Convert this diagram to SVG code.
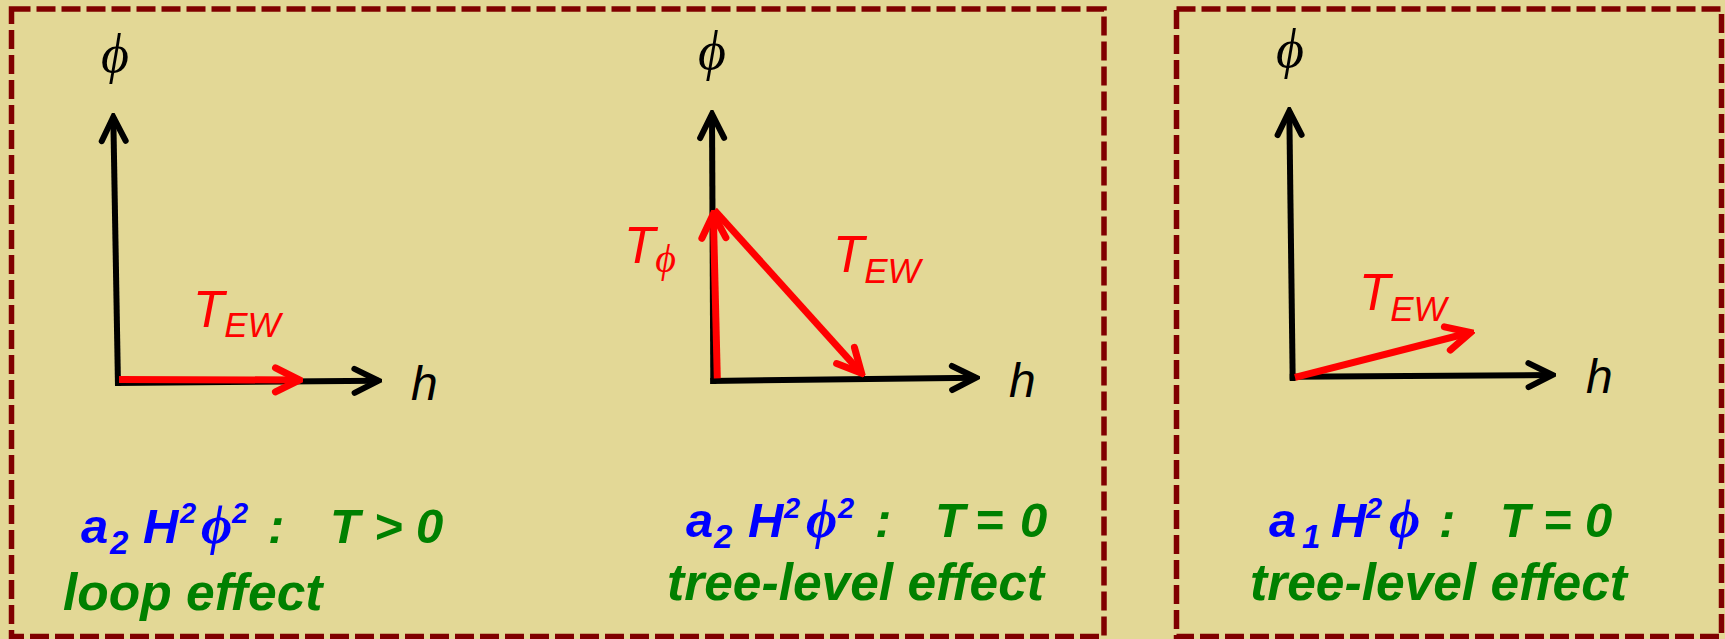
<svg xmlns="http://www.w3.org/2000/svg" width="1725" height="639" viewBox="0 0 1725 639">
  <style>
    .frame { fill: none; stroke: #800000; stroke-width: 5.5; stroke-dasharray: 19 6; }
    .axis { fill: none; stroke: #000; stroke-width: 6; stroke-linecap: butt; }
    .vec { fill: none; stroke: #FF0000; stroke-width: 7; stroke-linecap: butt; }
    .axlbl { font-family: "Liberation Serif", "DejaVu Serif", serif; font-style: italic; font-size: 54px; fill: #000; }
    .hlbl { font-family: "Liberation Sans", Arial, sans-serif; font-style: italic; font-size: 48px; fill: #000; }
    .tlbl { font-family: "Liberation Sans", Arial, sans-serif; font-style: italic; font-size: 51px; fill: #FF0000; }
    .sub { font-size: 35px; }
    .phisub { font-family: "Liberation Serif", "DejaVu Serif", serif; font-style: italic; font-size: 40px; fill: #FF0000; }
    .eq { font-family: "Liberation Sans", Arial, sans-serif; font-style: italic; font-weight: bold; font-size: 49px; }
    .eqphi { font-family: "Liberation Serif", "DejaVu Serif", serif; font-style: italic; font-weight: bold; font-size: 54px; }
    .blue { fill: #0000FF; }
    .green { fill: #008000; }
    .small { font-size: 33px; }
    .sup { font-size: 29px; }
    .desc { font-family: "Liberation Sans", Arial, sans-serif; font-style: italic; font-weight: bold; font-size: 51.5px; fill: #008000; }
  </style>
  <defs>
    <marker id="ahBlack" markerUnits="userSpaceOnUse" viewBox="-30 -16 34 32" refX="0" refY="0" markerWidth="34" markerHeight="32" orient="auto">
      <path d="M-24,-12 L0,0 L-24,12" fill="none" stroke="#000" stroke-width="6" stroke-linecap="round" stroke-linejoin="miter"/>
    </marker>
    <marker id="ahRed" markerUnits="userSpaceOnUse" viewBox="-30 -16 34 32" refX="0" refY="0" markerWidth="34" markerHeight="32" orient="auto">
      <path d="M-24,-12 L0,0 L-24,12" fill="none" stroke="#FF0000" stroke-width="7" stroke-linecap="round" stroke-linejoin="miter"/>
    </marker>
  </defs>

  <rect x="0" y="0" width="1725" height="639" fill="#E3D896"/>

  <g id="frame-left"><rect class="frame" x="11.5" y="9" width="1092.5" height="627.5"/></g>
  <g id="frame-right"><rect class="frame" x="1176.5" y="9" width="545" height="627.5"/></g>

  <g id="connectors">
    <!-- panel 1 -->
    <path class="axis" d="M118,386 L113.3,117" marker-end="url(#ahBlack)"/>
    <path class="axis" d="M115,383 L378.5,380.7" marker-end="url(#ahBlack)"/>
    <path class="vec" d="M119,379.5 L299.5,380" marker-end="url(#ahRed)"/>
    <!-- panel 2 -->
    <path class="axis" d="M713.3,384 L712,114" marker-end="url(#ahBlack)"/>
    <path class="axis" d="M710.3,381 L976,377.7" marker-end="url(#ahBlack)"/>
    <path class="vec" d="M717.3,378.3 L713.3,214" marker-end="url(#ahRed)"/>
    <path class="vec" d="M714.3,210 L861.6,373.3" marker-end="url(#ahRed)"/>
    <!-- panel 3 -->
    <path class="axis" d="M1292.7,381 L1289.3,111" marker-end="url(#ahBlack)"/>
    <path class="axis" d="M1289.7,376.7 L1552.5,375" marker-end="url(#ahBlack)"/>
    <path class="vec" d="M1295,377.3 L1470.6,332.5" marker-end="url(#ahRed)"/>
  </g>

  <g id="panel-loop">
    <text class="axlbl" x="115" y="72" text-anchor="middle">ϕ</text>
    <text class="hlbl" x="411" y="400">h</text>
    <text class="tlbl" x="193" y="327">T<tspan class="sub" dy="10">EW</tspan></text>
    <text class="eq">
      <tspan class="blue" x="81" y="543">a</tspan><tspan class="blue small" x="110" y="554">2</tspan><tspan class="blue" x="143" y="543">H</tspan><tspan class="blue sup" x="180" y="523">2</tspan><tspan class="blue eqphi" x="201" y="543">ϕ</tspan><tspan class="blue sup" x="232" y="523">2</tspan><tspan class="green" x="268" y="543">:</tspan><tspan class="green" x="330" y="543">T</tspan><tspan class="green" x="374" y="543">&gt;</tspan><tspan class="green" x="416" y="543">0</tspan>
    </text>
    <text class="desc" x="63" y="610">loop effect</text>
  </g>

  <g id="panel-tree-2">
    <text class="axlbl" x="712" y="69" text-anchor="middle">ϕ</text>
    <text class="hlbl" x="1009" y="397">h</text>
    <text class="tlbl" x="624" y="263">T<tspan class="phisub" dy="9">ϕ</tspan></text>
    <text class="tlbl" x="833" y="272">T<tspan class="sub" dy="11">EW</tspan></text>
    <text class="eq">
      <tspan class="blue" x="686" y="537">a</tspan><tspan class="blue small" x="714" y="548">2</tspan><tspan class="blue" x="748" y="537">H</tspan><tspan class="blue sup" x="784" y="518">2</tspan><tspan class="blue eqphi" x="806" y="537">ϕ</tspan><tspan class="blue sup" x="838" y="518">2</tspan><tspan class="green" x="875" y="537">:</tspan><tspan class="green" x="935" y="537">T</tspan><tspan class="green" x="975" y="537">=</tspan><tspan class="green" x="1020" y="537">0</tspan>
    </text>
    <text class="desc" x="667" y="600">tree-level effect</text>
  </g>

  <g id="panel-tree-1">
    <text class="axlbl" x="1290" y="67" text-anchor="middle">ϕ</text>
    <text class="hlbl" x="1586" y="393">h</text>
    <text class="tlbl" x="1359" y="310">T<tspan class="sub" dy="11">EW</tspan></text>
    <text class="eq">
      <tspan class="blue" x="1269" y="537">a</tspan><tspan class="blue small" x="1302" y="548">1</tspan><tspan class="blue" x="1331" y="537">H</tspan><tspan class="blue sup" x="1366" y="518">2</tspan><tspan class="blue eqphi" x="1389" y="537">ϕ</tspan><tspan class="green" x="1439" y="537">:</tspan><tspan class="green" x="1500" y="537">T</tspan><tspan class="green" x="1543" y="537">=</tspan><tspan class="green" x="1585" y="537">0</tspan>
    </text>
    <text class="desc" x="1250" y="600">tree-level effect</text>
  </g>
</svg>
